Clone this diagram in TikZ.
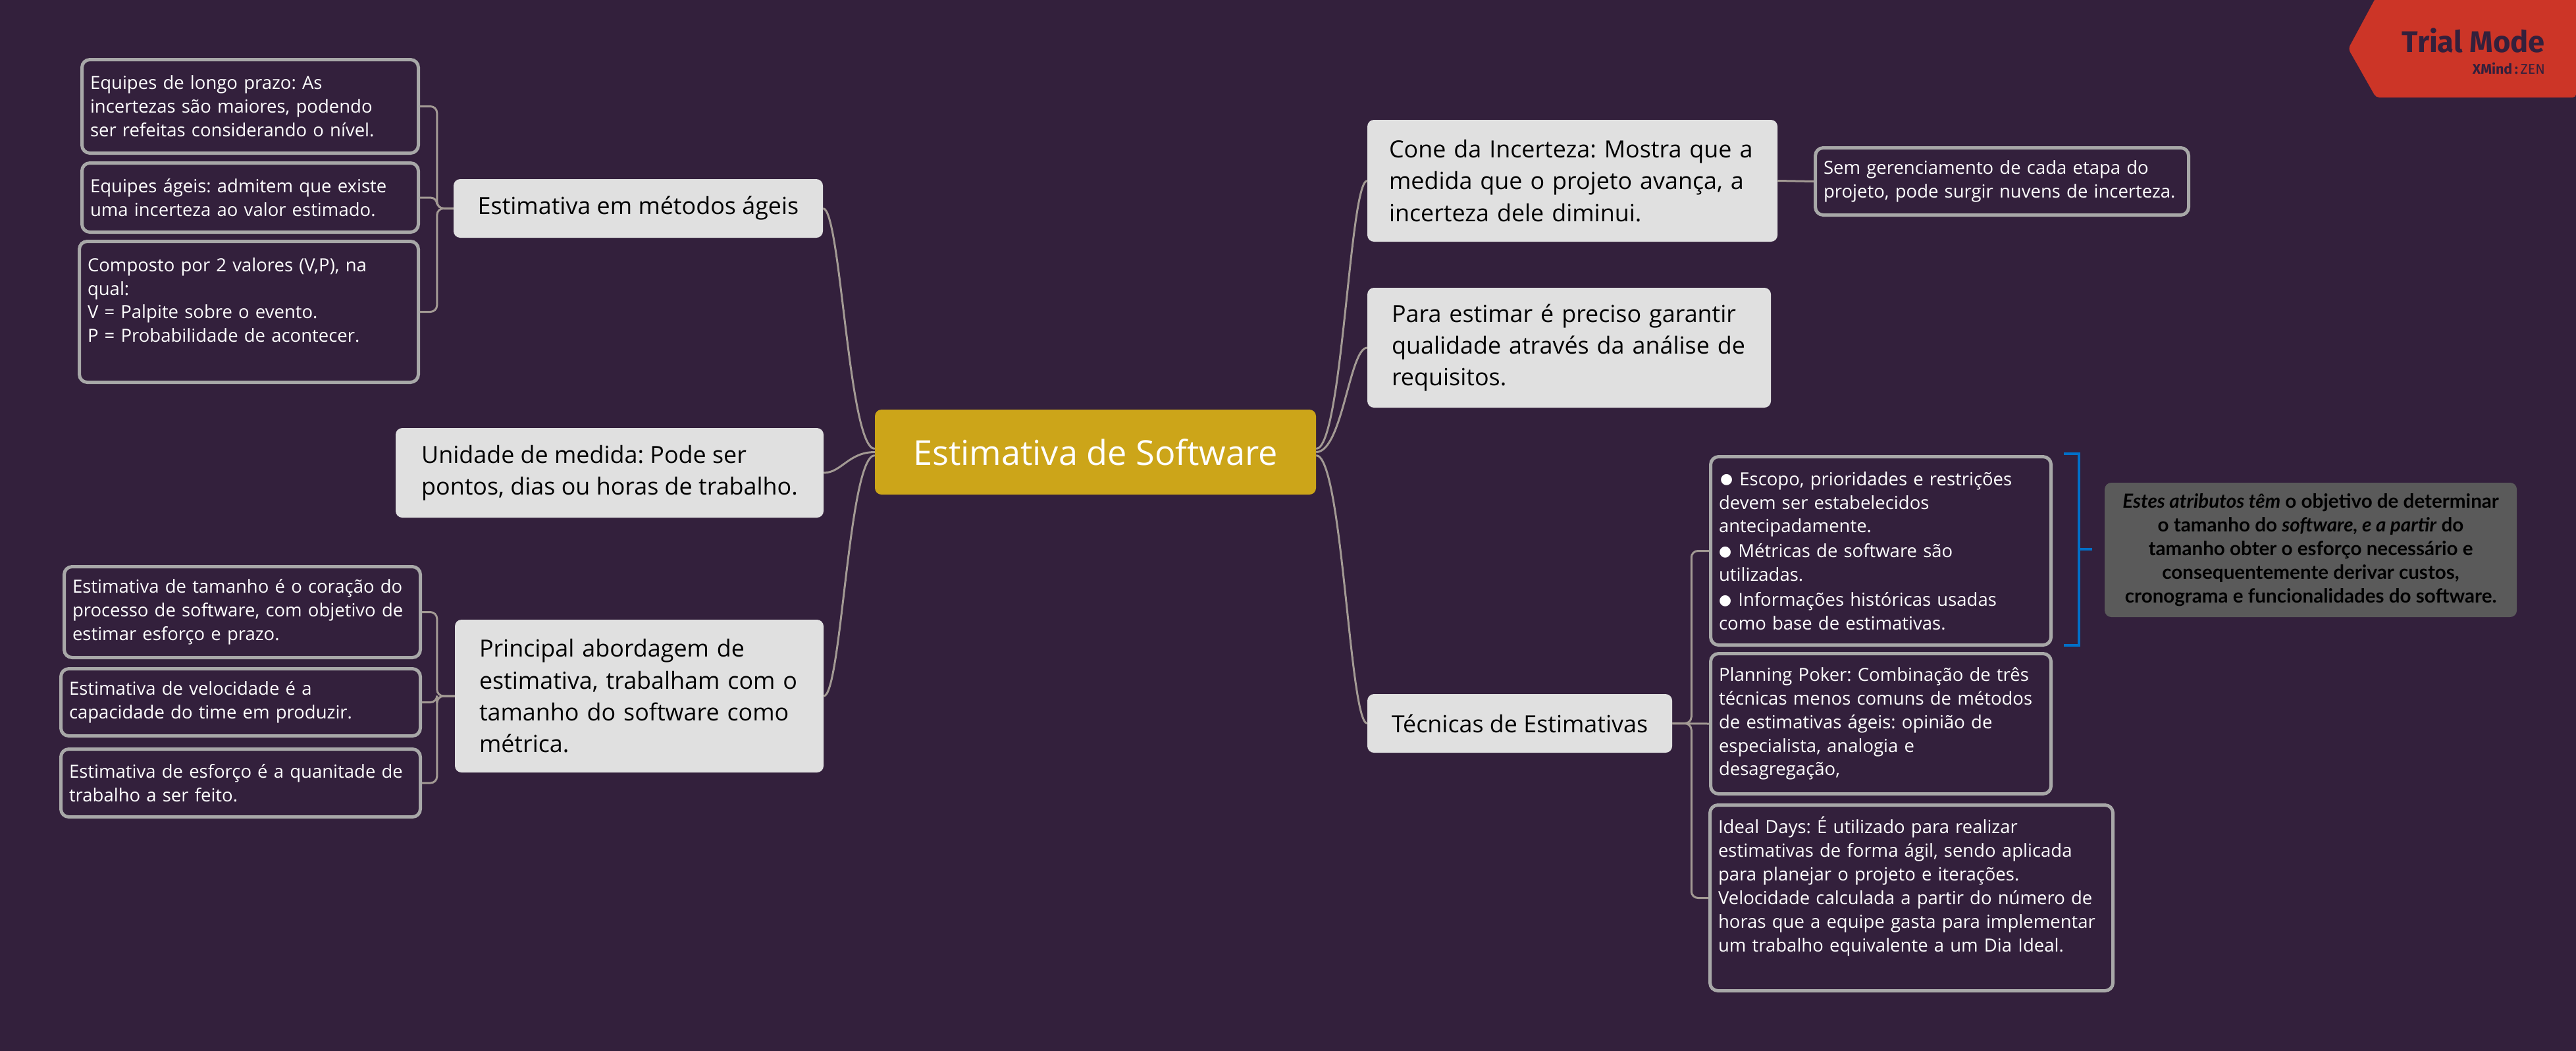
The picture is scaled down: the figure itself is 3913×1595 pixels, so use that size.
\documentclass[tikz,border=0pt]{standalone}
\usepackage{fontspec}
\setmainfont{Open Sans}
\newfontfamily\trialfont{Fira Sans}
\newfontfamily\notefont{Lato}
\newfontfamily\dotfont{DejaVu Sans}
\definecolor{bgcol}{HTML}{33203C}
\definecolor{goldcol}{HTML}{CCA519}
\definecolor{greycol}{HTML}{E0E0E0}
\definecolor{bordercol}{HTML}{A8A8A8}
\definecolor{linecol}{HTML}{A39A94}
\definecolor{notecol}{HTML}{5A5A5A}
\definecolor{redcol}{HTML}{CC3527}
\definecolor{bluecol}{HTML}{0070C8}
\newcommand{\dotmark}{\kern2bp\raisebox{2.5bp}{\dotfont\fontsize{22}{36}\selectfont ●}\kern1bp}
\tikzset{
  mainbox/.style={fill=greycol,text=black,rounded corners=10bp,align=left,font=\fontsize{36}{48.5}\selectfont},
  leafbox/.style={draw=bordercol,line width=5bp,text=white,rounded corners=12bp,align=left,inner xsep=12.5bp,font=\fontsize{27.6}{36}\selectfont},
  notebox/.style={fill=notecol,text=black,rounded corners=10bp,align=center,font=\notefont\fontsize{29.7}{36}\selectfont\bfseries},
  branch/.style={draw=linecol,line width=3bp},
  stem/.style={draw=linecol,line width=3bp,rounded corners=10bp},
  bracket/.style={draw=bluecol,line width=3.5bp}
}
\frenchspacing

\begin{document}
\begin{tikzpicture}[x=1bp,y=1bp]
\useasboundingbox (0,0) rectangle (3913,-1595);
\fill[bgcol] (-5,5) rectangle (3918,-1600);
% centre
\node (root) at (1664bp,-686.5bp)[fill=goldcol,text=white,rounded corners=10bp,minimum width=670bp,minimum height=129bp,font=\fontsize{52.4}{60}\selectfont] {Estimativa de Software};
% left side
\node (agil) at (969.5bp,-316.5bp)[mainbox,minimum width=561bp,minimum height=89bp] {Estimativa em métodos ágeis};
\node (unidade) at (926bp,-718bp)[mainbox,minimum width=650bp,minimum height=136bp] {Unidade de medida: Pode ser\\pontos, dias ou horas de trabalho.};
\node (principal) at (971bp,-1057bp)[mainbox,inner xsep=37bp,text width=486bp,minimum height=232bp] {Principal abordagem de\\estimativa, trabalham com o\\tamanho do software como\\métrica.};
\node (eqlongo) at (380bp,-161.5bp)[leafbox,text width=486bp,minimum height=142bp] {Equipes de longo prazo: As\\incertezas são maiores, podendo\\ser refeitas considerando o nível.};
\node (eqageis) at (380bp,-300bp)[leafbox,text width=486bp,minimum height=105bp] {Equipes ágeis: admitem que existe\\uma incerteza ao valor estimado.};
\node (composto) at (378bp,-473.5bp)[leafbox,text width=490bp,minimum height=214bp] {Composto por 2 valores (V,P), na\\qual:\\V = Palpite sobre o evento.\\P = Probabilidade de acontecer.\\~};
\node (tamanho) at (368bp,-929.5bp)[leafbox,text width=516bp,minimum height=138bp] {Estimativa de tamanho é o coração do\\processo de software, com objetivo de\\estimar esforço e prazo.};
\node (velocidade) at (365.5bp,-1066.5bp)[leafbox,text width=521bp,minimum height=102bp] {Estimativa de velocidade é a\\capacidade do time em produzir.};
\node (esforco) at (365.5bp,-1189bp)[leafbox,text width=521bp,minimum height=103bp] {Estimativa de esforço é a quanitade de\\trabalho a ser feito.};
% right side
\node (cone) at (2388.5bp,-274.5bp)[mainbox,inner xsep=33bp,text width=557bp,minimum height=185bp] {Cone da Incerteza: Mostra que a\\medida que o projeto avança, a\\incerteza dele diminui.};
\node (sem) at (3041bp,-275.5bp)[leafbox,text width=542bp,minimum height=102bp] {Sem gerenciamento de cada etapa do\\projeto, pode surgir nuvens de incerteza.};
\node (para) at (2383.5bp,-528bp)[mainbox,inner xsep=37bp,text width=539bp,minimum height=182bp] {Para estimar é preciso garantir\\qualidade através da análise de\\requisitos.};
\node (tecnicas) at (2308.5bp,-1098.5bp)[mainbox,minimum width=463bp,minimum height=89bp] {Técnicas de Estimativas};
\node (escopo) at (2857bp,-836.5bp)[leafbox,text width=492bp,minimum height=286bp] {\dotmark{} Escopo, prioridades e restrições\\devem ser estabelecidos\\antecipadamente.\\\dotmark{} Métricas de software são\\utilizadas.\\\dotmark{} Informações históricas usadas\\como base de estimativas.};
\node (planning) at (2857bp,-1099bp)[leafbox,text width=492bp,minimum height=213bp] {Planning Poker: Combinação de três\\técnicas menos comuns de métodos\\de estimativas ágeis: opinião de\\especialista, analogia e\\desagregação,};
\node (ideal) at (2903.5bp,-1363.5bp)[leafbox,text width=587bp,minimum height=282bp] {Ideal Days: É utilizado para realizar\\estimativas de forma ágil, sendo aplicada\\para planejar o projeto e iterações.\\Velocidade calculada a partir do número de\\horas que a equipe gasta para implementar\\um trabalho equivalente a um Dia Ideal.\\[6bp]~};
\node (nota) at (3510bp,-835bp)[notebox,minimum width=626bp,minimum height=204bp] {\textit{Estes atributos têm} o objetivo de determinar\\o tamanho do \textit{software, e a partir} do\\tamanho obter o esforço necessário e\\consequentemente derivar custos,\\cronograma e funcionalidades do software.};
% curves out of the centre
\draw [branch] ([yshift=5bp]root.east) to[out=0,in=180,out distance=40bp,in distance=27bp] (cone.west);
\draw [branch] (root.east) to[out=0,in=180,out distance=40bp,in distance=27bp] (para.west);
\draw [branch] ([yshift=-5bp]root.east) to[out=0,in=180,out distance=40bp,in distance=27bp] (tecnicas.west);
\draw [branch] ([yshift=5bp]root.west) to[out=180,in=0,out distance=40bp,in distance=27bp] (agil.east);
\draw [branch] (root.west) to[out=180,in=0,out distance=40bp,in distance=27bp] (unidade.east);
\draw [branch] ([yshift=-5bp]root.west) to[out=180,in=0,out distance=40bp,in distance=27bp] (principal.east);
% brackets
\draw [stem] (agil.west) -- +(-25bp,0) |- (eqlongo.east);
\draw [stem] (agil.west) -- +(-25bp,0) |- (eqageis.east);
\draw [stem] (agil.west) -- +(-25bp,0) |- (composto.east);
\draw [stem] (principal.west) -- +(-27bp,0) |- (tamanho.east);
\draw [stem] (principal.west) -- +(-27bp,0) |- (velocidade.east);
\draw [stem] (principal.west) -- +(-27bp,0) |- (esforco.east);
\draw [stem] (tecnicas.east) -- +(29bp,0) |- (escopo.west);
\draw [stem] (tecnicas.east) -- (planning.west);
\draw [stem] (tecnicas.east) -- +(29bp,0) |- (ideal.west);
\draw [stem] (cone.east) -- (sem.west);
% blue bracket by the note
\coordinate (brtop) at (3135bp,-689bp);
\coordinate (brbot) at (3135bp,-980bp);
\coordinate (brmid) at (3158bp,-834bp);
\coordinate (brtip) at (3178bp,-834bp);
\draw [bracket] (brtop) -- +(23bp,0) |- (brbot);
\draw [bracket] (brmid) -- (brtip);
% trial badge
\fill[redcol,rounded corners=5bp] (3609bp,4bp) -- (3913bp,4bp) -- (3913bp,-148bp) -- (3609bp,-148bp) -- (3567bp,-74bp) -- cycle;
\node (trial) at (3866bp,-61.5bp)[anchor=east,text=bgcol,inner sep=0pt,font=\trialfont\fontsize{45.5}{47}\selectfont\bfseries] {Trial Mode};
\node (xmind) at (3866bp,-103.5bp)[anchor=east,text=bgcol,inner sep=0pt,font=\trialfont\fontsize{21.5}{22}\selectfont] {\textbf{XMind}\,\textbf{:}\,ZEN};
\end{tikzpicture}
\end{document}
